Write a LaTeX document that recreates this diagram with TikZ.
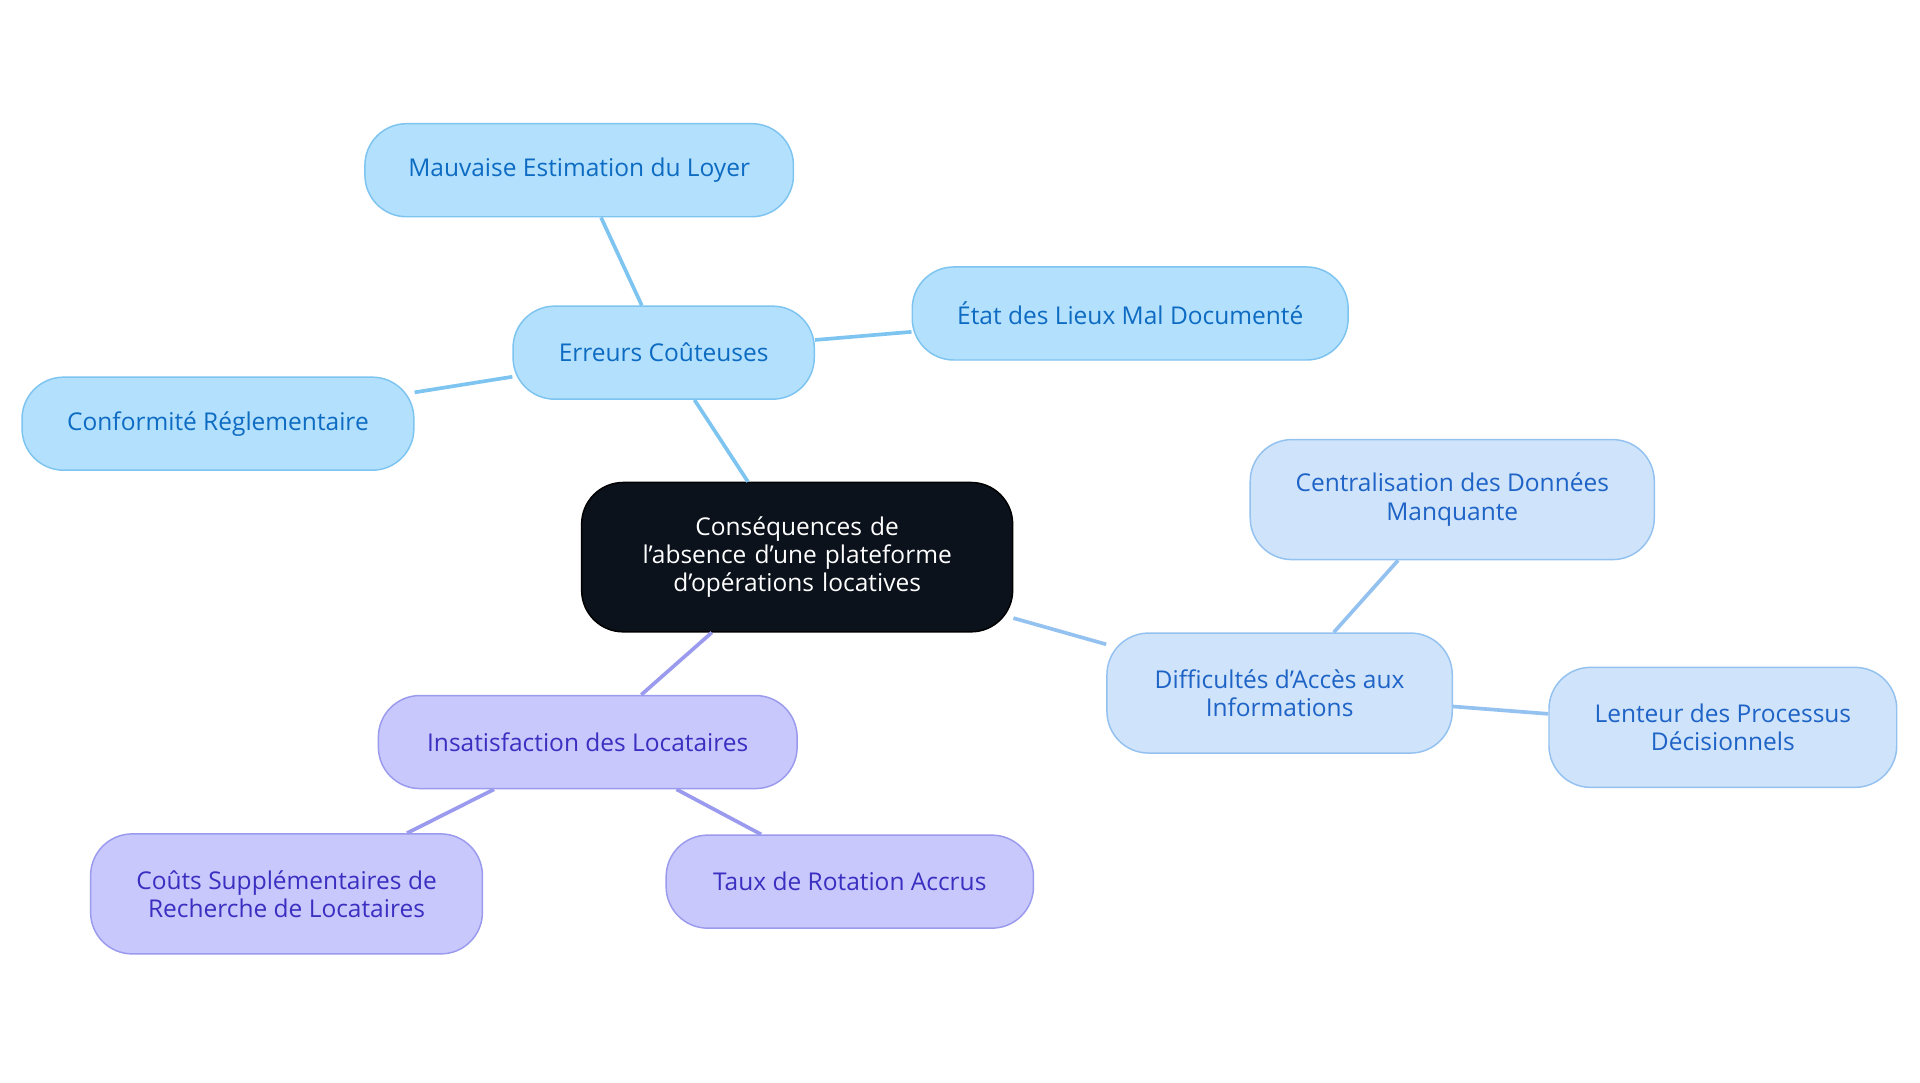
\documentclass[tikz,border=0pt]{standalone}
\usepackage{fontspec}
\setmainfont{Open Sans}
\begin{document}
\begin{tikzpicture}[x=0.5pt,y=-0.5pt,
 base/.style={rounded corners=17pt,align=center,font=\fontsize{10}{11.5}\selectfont,inner sep=2pt,line width=0.6pt},
 blue/.style={base,fill=bfill,draw=bdraw,text=btext,minimum height=38pt},
 blue2/.style={base,fill=cfill,draw=cdraw,text=ctext,minimum height=49pt},
 purp/.style={base,fill=pfill,draw=pdraw,text=ptext},
 eb/.style={draw=bdraw,line width=1.5pt},
 ec/.style={draw=cdraw,line width=1.5pt},
 ep/.style={draw=pdraw,line width=1.5pt}]
\definecolor{bfill}{HTML}{B3E0FD}\definecolor{bdraw}{HTML}{7DC4F0}\definecolor{btext}{HTML}{0D6BC2}
\definecolor{cfill}{HTML}{CFE3FA}\definecolor{cdraw}{HTML}{94C2F0}\definecolor{ctext}{HTML}{1E63C6}
\definecolor{pfill}{HTML}{C8C8FC}\definecolor{pdraw}{HTML}{9A9AEE}\definecolor{ptext}{HTML}{3A2FC0}
\useasboundingbox (0,0) rectangle (1568,884);
\node[base,fill=black!90!blue!60!black,fill={rgb,255:red,11;green,18;blue,28},draw=black,text=white,minimum width=176pt,minimum height=61pt,text width=150pt] (c) at (651,455) {Conséquences de l'absence d'une plateforme d'opérations locatives};
\node[blue,minimum width=123pt] (e) at (542,288) {Erreurs Coûteuses};
\node[blue,minimum width=175pt] (m) at (473,139) {Mauvaise Estimation du Loyer};
\node[blue,minimum width=178pt] (s) at (923,256) {État des Lieux Mal Documenté};
\node[blue,minimum width=160pt] (r) at (178,346) {Conformité Réglementaire};
\node[blue2,minimum width=141pt] (d) at (1045,566) {Difficultés d'Accès aux\\Informations};
\node[blue2,minimum width=165pt] (z) at (1186,408) {Centralisation des Données\\Manquante};
\node[blue2,minimum width=142pt] (l) at (1407,594) {Lenteur des Processus\\Décisionnels};
\node[purp,minimum width=171pt,minimum height=38pt] (i) at (480,606) {Insatisfaction des Locataires};
\node[purp,minimum width=160pt,minimum height=49pt] (k) at (234,730) {Coûts Supplémentaires de\\Recherche de Locataires};
\node[purp,minimum width=150pt,minimum height=38pt] (t) at (694,720) {Taux de Rotation Accrus};
\draw[eb] (c) -- (e); \draw[eb] (e) -- (m); \draw[eb] (e) -- (s); \draw[eb] (e) -- (r);
\draw[ec] (c) -- (d); \draw[ec] (d) -- (z); \draw[ec] (d) -- (l);
\draw[ep] (c) -- (i); \draw[ep] (i) -- (k); \draw[ep] (i) -- (t);
\end{tikzpicture}
\end{document}
